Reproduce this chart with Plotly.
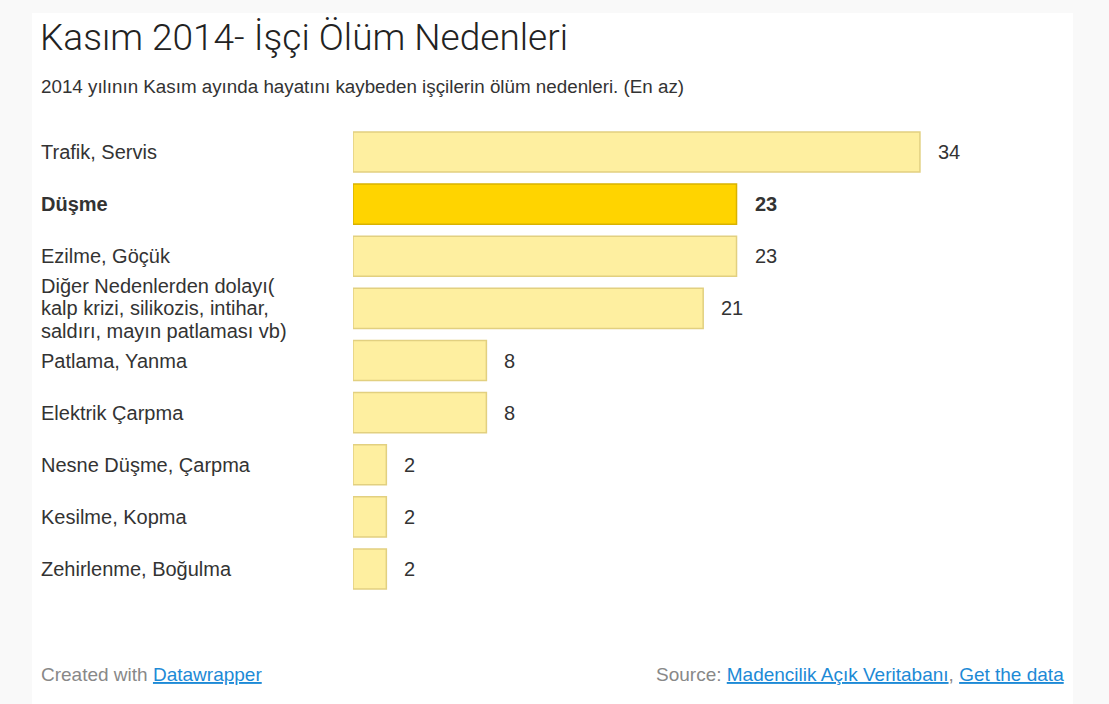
import plotly.graph_objects as go

# data
categories = [
    "Trafik, Servis",
    "Düşme",
    "Ezilme, Göçük",
    "Diğer Nedenlerden dolayı(<br>kalp krizi, silikozis, intihar,<br>saldırı, mayın patlaması vb)",
    "Patlama, Yanma",
    "Elektrik Çarpma",
    "Nesne Düşme, Çarpma",
    "Kesilme, Kopma",
    "Zehirlenme, Boğulma",
]
values = [34, 23, 23, 21, 8, 8, 2, 2, 2]
highlight = "Düşme"

title = "Kasım 2014- İşçi Ölüm Nedenleri"
subtitle = "2014 yılının Kasım ayında hayatını kaybeden işçilerin ölüm nedenleri. (En az)"

W, H = 1109, 704
L, R, T, B = 353, 89, 126, 109
pw, ph = W - L - R, H - T - B


def px_x(p):
    return (p - L) / pw


def px_y(p):
    return (H - B - p) / ph


FONT = "Liberation Sans, Arial, sans-serif"
TEXT = "#333333"
LINK = "#1d8ad6"
LABEL_SIZE = 20
LINE_GAP = 22.5

fill = ["#FFD400" if c == highlight else "#FEEFA0" for c in categories]
edge = ["#D9B200" if c == highlight else "#E2D080" for c in categories]

fig = go.Figure(
    go.Bar(
        x=values,
        y=categories,
        orientation="h",
        marker=dict(color=fill, line=dict(color=edge, width=1.5)),
        hoverinfo="x+y",
    )
)

# white panel on light gray page
fig.add_shape(
    type="rect", xref="paper", yref="paper",
    x0=px_x(32), x1=px_x(1073), y0=px_y(710), y1=px_y(13),
    fillcolor="white", line_width=0, layer="below",
)

annotations = []
for c, v in zip(categories, values):
    bold = c == highlight
    lines = c.split("<br>")
    for i, line in enumerate(lines):
        annotations.append(dict(
            xref="paper", yref="y", x=px_x(39), y=c, xanchor="left",
            yanchor="middle", align="left", showarrow=False,
            yshift=((len(lines) - 1) / 2 - i) * LINE_GAP,
            text=f"<b>{line}</b>" if bold else line,
            font=dict(family=FONT, size=LABEL_SIZE, color=TEXT),
        ))
    annotations.append(dict(
        xref="x", yref="y", x=v, y=c, xanchor="left", yanchor="middle",
        xshift=16, showarrow=False,
        text=f"<b>{v}</b>" if bold else str(v),
        font=dict(family=FONT, size=LABEL_SIZE, color=TEXT),
    ))

link = "<span style='color:" + LINK + ";text-decoration:underline'>{}</span>"
annotations += [
    dict(xref="paper", yref="paper", x=px_x(38), y=px_y(38), xanchor="left",
         yanchor="middle", showarrow=False, text=title,
         font=dict(family="Roboto, sans-serif", size=37, color="#222222", weight=300)),
    dict(xref="paper", yref="paper", x=px_x(39), y=px_y(86), xanchor="left",
         yanchor="middle", showarrow=False, text=subtitle,
         font=dict(family=FONT, size=18.8, color=TEXT)),
    dict(xref="paper", yref="paper", x=px_x(39), y=px_y(674), xanchor="left",
         yanchor="middle", showarrow=False,
         text="Created with " + link.format("Datawrapper"),
         font=dict(family=FONT, size=19, color="#888888")),
    dict(xref="paper", yref="paper", x=px_x(1066), y=px_y(674), xanchor="right",
         yanchor="middle", showarrow=False,
         text="Source: " + link.format("Madencilik Açık Veritabanı") + ", " + link.format("Get the data"),
         font=dict(family=FONT, size=19, color="#888888")),
]

fig.update_layout(
    width=W, height=H,
    margin=dict(l=L, r=R, t=T, b=B),
    paper_bgcolor="#f9f9f9",
    plot_bgcolor="rgba(0,0,0,0)",
    bargap=0.23,
    showlegend=False,
    annotations=annotations,
    xaxis=dict(range=[0, 40], visible=False, fixedrange=True),
    yaxis=dict(autorange="reversed", showticklabels=False, showgrid=False,
               zeroline=False, fixedrange=True),
)

fig.write_html(
    "out.html",
    config={"displayModeBar": False},
    post_script="document.body.style.margin='0';",
)
